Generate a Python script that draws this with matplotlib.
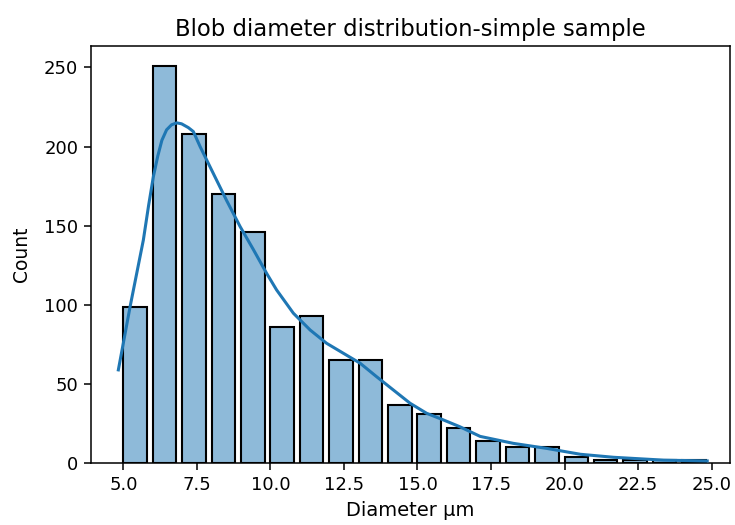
import matplotlib
matplotlib.use('Agg')
import matplotlib.pyplot as plt
import numpy as np

# histogram bins (edges) and counts
bin_edges = [4.9 + i for i in range(21)]
counts = [99, 251, 208, 170, 146, 86, 93, 65, 65, 37,
          31, 22, 14, 10, 10, 4, 2, 2, 2, 2]

# kde line, points (x in um, y in counts)
kde_x = [4.83, 5.23, 5.68, 5.86, 6.02, 6.17, 6.31, 6.47, 6.64, 6.82,
         6.98, 7.21, 7.38, 7.61, 8.06, 8.51, 8.97, 9.42, 9.87, 10.21,
         10.78, 11.35, 11.91, 12.48, 13.05, 13.61, 14.18, 14.75, 15.31, 15.88,
         16.44, 17.13, 18.26, 19.4, 20.54, 21.67, 23.37, 24.85]
kde_y = [59, 99, 141, 163, 181, 194, 204, 210.6, 213.8, 215,
         214.4, 212, 209.5, 200, 183, 166, 149.5, 135, 120, 109.5,
         94.8, 84.2, 75.8, 69.5, 63.2, 54.7, 46.3, 37.9, 31.6, 27.4,
         23.1, 17, 12.6, 9.4, 5.7, 3.8, 2.0, 1.5]

title = 'Blob diameter distribution-simple sample'
xlabel = 'Diameter µm'
ylabel = 'Count'

blue = (0.122, 0.467, 0.706)
shrink = 0.8

fig = plt.figure(figsize=(7.35, 5.25), dpi=100)
ax = fig.add_axes([0.1234, 0.1175, 0.8696, 0.7949])

edges = np.array(bin_edges)
widths = np.diff(edges)
centers = edges[:-1] + widths / 2
ax.bar(centers, counts, width=widths * shrink, facecolor=blue + (0.5,),
       edgecolor='black', linewidth=1.5, zorder=2)
ax.plot(kde_x, kde_y, color=blue, linewidth=2.2, zorder=3,
        solid_joinstyle='round')

ax.set_xlim(3.89, 25.62)
ax.set_ylim(0, max(counts) * 1.05)
ax.set_xticks(np.arange(5, 25.1, 2.5))
ax.set_yticks(range(0, 251, 50))
ax.tick_params(labelsize=13, width=1.1, length=5, pad=4)
for s in ax.spines.values():
    s.set_linewidth(1.1)
ax.set_title(title, fontsize=16.4, pad=7)
ax.set_xlabel(xlabel, fontsize=14, labelpad=5)
ax.set_ylabel(ylabel, fontsize=13.5, labelpad=9)

plt.savefig('out.png', dpi=100)
plt.close()
